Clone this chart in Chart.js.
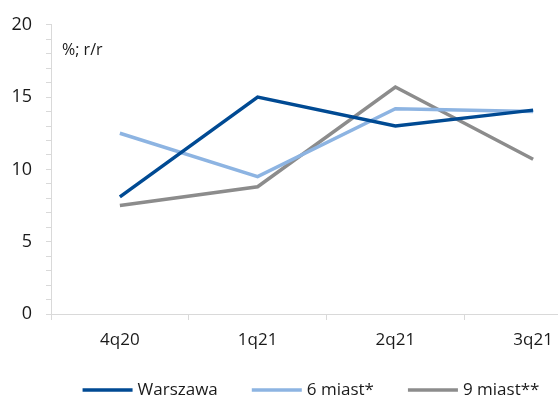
<!DOCTYPE html>
<html>
<head>
<meta charset="utf-8">
<script src="https://cdn.jsdelivr.net/npm/chart.js@4/dist/chart.umd.min.js"></script>
<style>
  html, body { margin: 0; padding: 0; background: #fff; overflow: hidden; }
  #wrap { width: 602px; height: 401px; }
</style>
</head>
<body>
<div id="wrap"><canvas id="c" width="602" height="401"></canvas></div>
<script>
// Quarterly year-on-year change, %
const quarters = ['4q20', '1q21', '2q21', '3q21'];
const warszawa = [8.1, 15.0, 13.0, 14.1];
const miast6 = [12.5, 9.5, 14.2, 14.0];
const miast9 = [7.5, 8.8, 15.7, 10.7];
const seriesNames = ['Warszawa', '6 miast*', '9 miast**'];
const seriesColors = ['#004a93', '#8db4e2', '#8c8c8c'];
const unitLabel = '%; r/r';

const FONT = '"Open Sans", "DejaVu Sans", sans-serif';
const TEXT = '#1a1a1a';
const AXIS = '#d9d9d9';

// Unit caption in the top-left corner of the plot
const unitCaption = {
  id: 'unitCaption',
  afterDraw(chart) {
    const { ctx, chartArea } = chart;
    ctx.save();
    ctx.font = '16px ' + FONT;
    ctx.fillStyle = TEXT;
    ctx.textAlign = 'left';
    ctx.textBaseline = 'middle';
    ctx.fillText(unitLabel, chartArea.left + 11, chartArea.top + 26);
    ctx.restore();
  }
};

// Line-sample legend along the bottom edge
const lineLegend = {
  id: 'lineLegend',
  afterDraw(chart) {
    const { ctx } = chart;
    const sample = 50, gapText = 5, gapItem = 34, y = 390, center = 311;
    ctx.save();
    ctx.font = '17px ' + FONT;
    const ds = chart.data.datasets;
    const widths = ds.map(d => sample + gapText + ctx.measureText(d.label).width);
    const total = widths.reduce((a, b) => a + b, 0) + gapItem * (ds.length - 1);
    let x = center - total / 2;
    ds.forEach((d, i) => {
      ctx.strokeStyle = d.borderColor;
      ctx.lineWidth = 3.5;
      ctx.lineCap = 'butt';
      ctx.beginPath();
      ctx.moveTo(x, y);
      ctx.lineTo(x + sample, y);
      ctx.stroke();
      ctx.fillStyle = TEXT;
      ctx.textAlign = 'left';
      ctx.textBaseline = 'middle';
      ctx.fillText(d.label, x + sample + gapText, y);
      x += widths[i] + gapItem;
    });
    ctx.restore();
  }
};

const values = [warszawa, miast6, miast9];
new Chart(document.getElementById('c'), {
  type: 'line',
  data: {
    labels: quarters,
    datasets: values.map((v, i) => ({
      label: seriesNames[i],
      data: v,
      borderColor: seriesColors[i],
      backgroundColor: seriesColors[i],
      borderWidth: 3.5,
      pointRadius: 0,
      tension: 0,
      fill: false
    }))
  },
  options: {
    responsive: false,
    animation: false,
    events: [],
    layout: { padding: { top: 22, left: 0, right: 0, bottom: 0 } },
    plugins: { legend: { display: false }, tooltip: { enabled: false } },
    scales: {
      x: {
        offset: true,
        border: { color: AXIS, width: 1 },
        grid: { offset: true, drawOnChartArea: false, drawTicks: true, tickLength: 6, color: AXIS },
        ticks: { color: TEXT, font: { family: FONT, size: 17 }, padding: 10, maxRotation: 0 },
        afterFit(s) { s.height = 87; }
      },
      y: {
        min: 0,
        max: 20,
        border: { color: AXIS, width: 1 },
        grid: { drawOnChartArea: false, drawTicks: true, tickLength: 5, color: AXIS },
        ticks: {
          stepSize: 1,
          autoSkip: false,
          padding: 14,
          color: TEXT,
          font: { family: FONT, size: 18 },
          callback: v => (v % 5 === 0 ? String(v) : '')
        },
        afterFit(s) { s.width = 51; }
      }
    }
  },
  plugins: [unitCaption, lineLegend]
});
</script>
</body>
</html>
